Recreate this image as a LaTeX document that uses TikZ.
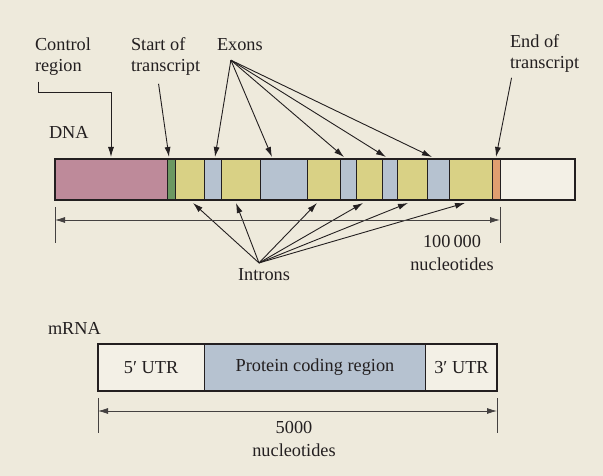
\documentclass[tikz,border=0pt]{standalone}
\usepackage{fontspec}
\setmainfont{Liberation Serif}
\usetikzlibrary{arrows.meta,positioning}

\definecolor{bgcream}{RGB}{238,234,220}
\definecolor{ctrlpink}{RGB}{190,138,154}
\definecolor{startgreen}{RGB}{108,152,98}
\definecolor{intronyellow}{RGB}{217,209,133}
\definecolor{exonblue}{RGB}{182,194,208}
\definecolor{endorange}{RGB}{224,158,112}
\definecolor{utrwhite}{RGB}{243,240,230}
\definecolor{ink}{RGB}{35,31,32}

\begin{document}
\begin{tikzpicture}[x=1pt,y=-1pt,>={Latex[length=10pt,width=6pt]},
                    every node/.style={text=ink, inner sep=0pt, outer sep=0pt,
                                       font=\fontsize{18.3}{21}\selectfont},
                    lbl/.style={align=left, anchor=north west},
                    ptr/.style={->, draw=ink, line width=0.9pt},
                    seg/.style={draw=ink, line width=1pt},
                    dimline/.style={draw=ink!85, line width=0.8pt},
                    mbox/.style={draw=ink, line width=1pt, minimum height=47pt}]

  \fill[bgcream] (0,0) rectangle (603,476);
  \useasboundingbox (0,0) rectangle (603,476);

  % labels above the DNA
  \node[lbl] (ctrl)  at (35,38)  {Control\\region};
  \node[lbl] (start) at (131,38) {Start of\\transcript};
  \node[lbl] (exons) at (217,39) {Exons};
  \node[lbl] (endtr) at (510,35) {End of\\transcript};
  \node[lbl] (dna)   at (49,126) {DNA};

  % DNA bar
  \foreach \a/\b/\c in {55/167/ctrlpink, 167/175/startgreen, 175/204/intronyellow,
                        204/221/exonblue, 221/260/intronyellow, 260/307/exonblue,
                        307/340/intronyellow, 340/356/exonblue, 356/382/intronyellow,
                        382/397/exonblue, 397/427/intronyellow, 427/449/exonblue,
                        449/492/intronyellow, 492/500/endorange, 500/575/utrwhite}
    \draw[seg, fill=\c] (\a,159) rectangle (\b,200);
  \draw[draw=ink, line width=2pt] (55,159) rectangle (575,200);

  \coordinate (ctrltip)  at (111,157);
  \coordinate (starttip) at (169,157);
  \coordinate (endtip)   at (496,157);
  \foreach \x [count=\i] in {215,272,344,386,432}
    \coordinate (exontip\i) at (\x,157);
  \foreach \x [count=\i] in {193,236,317,363,408,465}
    \coordinate (introntip\i) at (\x,203);

  \draw[ptr] ([xshift=3pt,yshift=-6pt]ctrl.south west) -- ++(0,11) -| (ctrltip);
  \draw[ptr] ([xshift=-7pt,yshift=-8pt]start.south) -- (starttip);
  \draw[ptr] ([xshift=-33pt,yshift=-5pt]endtr.south) -- (endtip);

  \coordinate (exonsrc) at ([xshift=-9pt,yshift=-9pt]exons.south);
  \foreach \i in {1,...,5}
    \draw[ptr] (exonsrc) -- (exontip\i);

  % introns
  \node (introns) at (264,275) {Introns};
  \coordinate (intronsrc) at ([xshift=-5pt,yshift=6pt]introns.north);
  \foreach \i in {1,...,6}
    \draw[ptr] (intronsrc) -- (introntip\i);

  % DNA length
  \coordinate (dnaL) at (55,220);
  \coordinate (dnaR) at (500,220);
  \foreach \p in {dnaL,dnaR}
    \draw[dimline] ([yshift=13pt]\p) -- ([yshift=-23pt]\p);
  \draw[dimline,<->] (dnaL) -- (dnaR);
  \node[align=center, anchor=north] (dnalen) at (452,235) {100\,000\\[2pt]nucleotides};

  % mRNA
  \node[lbl] (mrna) at (48,322) {mRNA};
  \node[mbox, fill=utrwhite, minimum width=106.3pt, anchor=west] (utr5) at (98,367.5) {5′ UTR};
  \node[mbox, fill=exonblue, minimum width=221.4pt, right=0pt of utr5] (cds) {Protein coding region};
  \node[mbox, fill=utrwhite, minimum width=71.6pt, right=0pt of cds] (utr3) {3′ UTR};
  \draw[draw=ink, line width=2pt] (utr5.north west) rectangle (utr3.south east);

  % mRNA length
  \coordinate (mrnaL) at (98,411);
  \coordinate (mrnaR) at (497,411);
  \foreach \p in {mrnaL,mrnaR}
    \draw[dimline] ([yshift=13pt]\p) -- ([yshift=-22pt]\p);
  \draw[dimline,<->] (mrnaL) -- (mrnaR);
  \node[align=center, anchor=north] (mrnalen) at (294,421) {5000\\[2pt]nucleotides};

\end{tikzpicture}
\end{document}
